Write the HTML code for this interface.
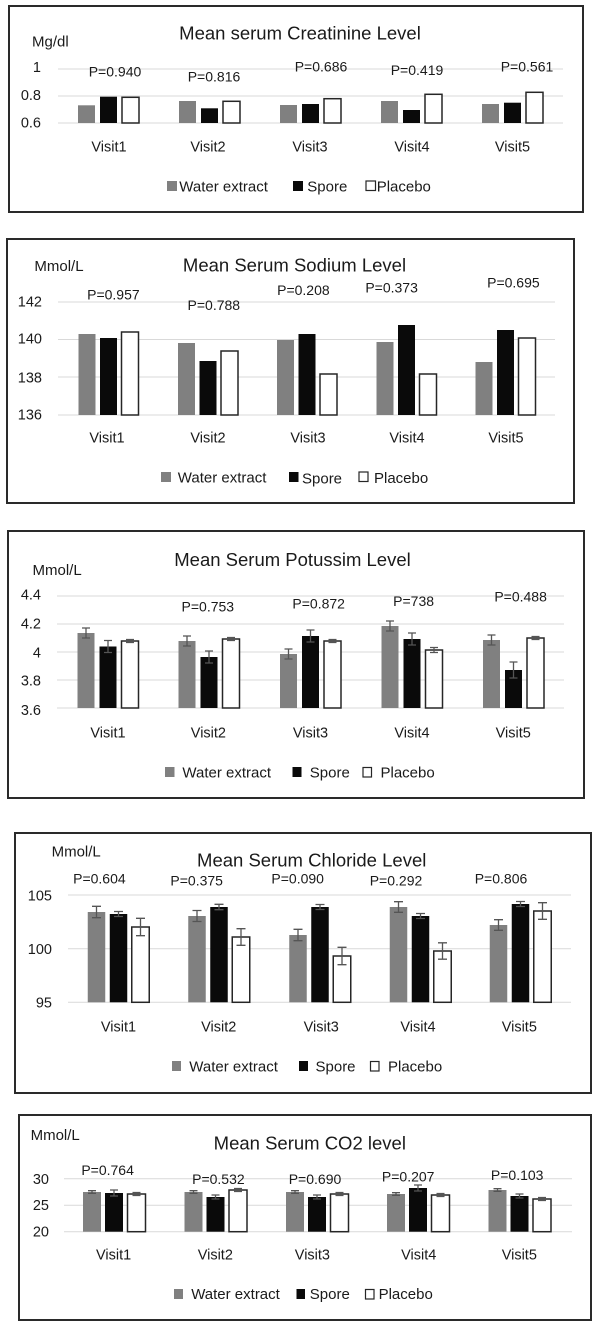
<!DOCTYPE html>
<html>
<head>
<meta charset="utf-8">
<style>
html,body{margin:0;padding:0;background:#fff;}
svg{display:block;}
text{font-family:"Liberation Sans",Arial,sans-serif;fill:#1a1a1a;}
.t{font-size:18.5px;text-anchor:middle;}
.u{font-size:15px;}
.k{font-size:14.5px;text-anchor:end;}
.p{font-size:14px;text-anchor:middle;}
.v{font-size:14.5px;text-anchor:middle;}
.l{font-size:15px;}
.g{stroke:#d9d9d9;stroke-width:1;}
.box{fill:none;stroke:#2a2a2a;stroke-width:2;}
.gr{fill:#808080;}
.bk{fill:#0a0a0a;}
.wh{fill:#fff;stroke:#262626;stroke-width:1.5;}
.e{stroke:#555;stroke-width:1.3;fill:none;}
.lw{fill:#fff;stroke:#262626;stroke-width:1.2;}
</style>
</head>
<body>
<svg width="600" height="1334" viewBox="0 0 600 1334" xmlns="http://www.w3.org/2000/svg">
<rect x="0" y="0" width="600" height="1334" fill="#fff"/>

<!-- ================= Panel 1: Creatinine ================= -->
<rect class="box" x="9" y="6" width="574" height="206"/>
<text class="t" x="300" y="39.5">Mean serum Creatinine Level</text>
<text class="u" x="32" y="46.5">Mg/dl</text>
<line class="g" x1="58" y1="69" x2="563" y2="69"/>
<line class="g" x1="58" y1="96" x2="563" y2="96"/>
<line class="g" x1="58" y1="123" x2="563" y2="123"/>
<text class="k" x="41" y="72">1</text>
<text class="k" x="41" y="100">0.8</text>
<text class="k" x="41" y="127.5">0.6</text>
<text class="p" x="115" y="76.7">P=0.940</text>
<text class="p" x="214" y="81.7">P=0.816</text>
<text class="p" x="321" y="71.7">P=0.686</text>
<text class="p" x="417" y="75">P=0.419</text>
<text class="p" x="527" y="71.7">P=0.561</text>
<!-- bars -->
<rect class="gr" x="78" y="105.3" width="17" height="17.7"/>
<rect class="bk" x="100" y="96.7" width="17" height="26.3"/>
<rect class="wh" x="122" y="97.3" width="17" height="25.7"/>
<rect class="gr" x="179" y="101" width="17" height="22"/>
<rect class="bk" x="201" y="108.3" width="17" height="14.7"/>
<rect class="wh" x="223" y="101.3" width="17" height="21.7"/>
<rect class="gr" x="280" y="105" width="17" height="18"/>
<rect class="bk" x="302" y="104" width="17" height="19"/>
<rect class="wh" x="324" y="98.7" width="17" height="24.3"/>
<rect class="gr" x="381" y="101" width="17" height="22"/>
<rect class="bk" x="403" y="110" width="17" height="13"/>
<rect class="wh" x="425" y="94.3" width="17" height="28.7"/>
<rect class="gr" x="482" y="104" width="17" height="19"/>
<rect class="bk" x="504" y="102.7" width="17" height="20.3"/>
<rect class="wh" x="526" y="92.3" width="17" height="30.7"/>
<text class="v" x="109" y="151.7">Visit1</text>
<text class="v" x="208" y="151.7">Visit2</text>
<text class="v" x="310" y="151.7">Visit3</text>
<text class="v" x="412" y="151.7">Visit4</text>
<text class="v" x="512.5" y="151.7">Visit5</text>
<rect class="gr" x="167" y="181" width="10" height="10"/>
<text class="l" x="179.3" y="191.5">Water extract</text>
<rect class="bk" x="293" y="181" width="10" height="10"/>
<text class="l" x="307.3" y="191.5">Spore</text>
<rect class="lw" x="366" y="181" width="9.5" height="9.5"/>
<text class="l" x="376.7" y="191.5">Placebo</text>

<!-- ================= Panel 2: Sodium ================= -->
<rect class="box" x="7" y="239" width="567" height="264"/>
<text class="t" x="294.5" y="271.3">Mean Serum Sodium Level</text>
<text class="u" x="34.4" y="271">Mmol/L</text>
<line class="g" x1="58" y1="302" x2="555" y2="302"/>
<line class="g" x1="58" y1="339.5" x2="555" y2="339.5"/>
<line class="g" x1="58" y1="377" x2="555" y2="377"/>
<line class="g" x1="58" y1="415" x2="555" y2="415"/>
<text class="k" x="42" y="306.7">142</text>
<text class="k" x="42" y="343.3">140</text>
<text class="k" x="42" y="382.3">138</text>
<text class="k" x="42" y="419.3">136</text>
<text class="p" x="113.4" y="299.3">P=0.957</text>
<text class="p" x="213.8" y="310">P=0.788</text>
<text class="p" x="303.4" y="295">P=0.208</text>
<text class="p" x="391.6" y="292.7">P=0.373</text>
<text class="p" x="513.4" y="287.3">P=0.695</text>
<rect class="gr" x="78.5" y="334" width="17" height="81"/>
<rect class="bk" x="100" y="338" width="17" height="77"/>
<rect class="wh" x="121.5" y="332" width="17" height="83"/>
<rect class="gr" x="178" y="343" width="17" height="72"/>
<rect class="bk" x="199.5" y="361" width="17" height="54"/>
<rect class="wh" x="221" y="351" width="17" height="64"/>
<rect class="gr" x="277" y="340" width="17" height="75"/>
<rect class="bk" x="298.5" y="334" width="17" height="81"/>
<rect class="wh" x="320" y="374" width="17" height="41"/>
<rect class="gr" x="376.5" y="342" width="17" height="73"/>
<rect class="bk" x="398" y="325" width="17" height="90"/>
<rect class="wh" x="419.5" y="374" width="17" height="41"/>
<rect class="gr" x="475.5" y="362" width="17" height="53"/>
<rect class="bk" x="497" y="330" width="17" height="85"/>
<rect class="wh" x="518.5" y="338" width="17" height="77"/>
<text class="v" x="107" y="442.7">Visit1</text>
<text class="v" x="208" y="442.7">Visit2</text>
<text class="v" x="308" y="442.7">Visit3</text>
<text class="v" x="407" y="442.7">Visit4</text>
<text class="v" x="506" y="442.7">Visit5</text>
<rect class="gr" x="161" y="472" width="10" height="10"/>
<text class="l" x="177.8" y="482.3">Water extract</text>
<rect class="bk" x="289" y="472" width="9.5" height="10"/>
<text class="l" x="302" y="483.5">Spore</text>
<rect class="lw" x="359" y="472" width="9" height="9.5"/>
<text class="l" x="374" y="483">Placebo</text>

<!-- ================= Panel 3: Potassium ================= -->
<rect class="box" x="8" y="531" width="576" height="267"/>
<text class="t" x="292.5" y="566">Mean Serum Potussim Level</text>
<text class="u" x="32.5" y="575">Mmol/L</text>
<line class="g" x1="57" y1="596" x2="564" y2="596"/>
<line class="g" x1="57" y1="624" x2="564" y2="624"/>
<line class="g" x1="57" y1="652" x2="564" y2="652"/>
<line class="g" x1="57" y1="680" x2="564" y2="680"/>
<line class="g" x1="57" y1="708" x2="564" y2="708"/>
<text class="k" x="41" y="599.3">4.4</text>
<text class="k" x="41" y="628.3">4.2</text>
<text class="k" x="41" y="657.3">4</text>
<text class="k" x="41" y="685.7">3.8</text>
<text class="k" x="41" y="715">3.6</text>
<text class="p" x="207.8" y="611.7">P=0.753</text>
<text class="p" x="318.7" y="608.3">P=0.872</text>
<text class="p" x="413.6" y="606">P=738</text>
<text class="p" x="520.6" y="601.7">P=0.488</text>
<rect class="gr" x="77.5" y="633" width="17" height="75"/>
<rect class="bk" x="99.5" y="646.5" width="17" height="61.5"/>
<rect class="wh" x="121.5" y="641" width="17" height="67"/>
<rect class="gr" x="178.5" y="641" width="17" height="67"/>
<rect class="bk" x="200.5" y="657" width="17" height="51"/>
<rect class="wh" x="222.5" y="639" width="17" height="69"/>
<rect class="gr" x="280" y="654" width="17" height="54"/>
<rect class="bk" x="302" y="636" width="17" height="72"/>
<rect class="wh" x="324" y="641" width="17" height="67"/>
<rect class="gr" x="381.5" y="626" width="17" height="82"/>
<rect class="bk" x="403.5" y="639" width="17" height="69"/>
<rect class="wh" x="425.5" y="650" width="17" height="58"/>
<rect class="gr" x="483" y="640" width="17" height="68"/>
<rect class="bk" x="505" y="670" width="17" height="38"/>
<rect class="wh" x="527" y="638" width="17" height="70"/>
<!-- error bars -->
<path class="e" d="M86 628V638M82 628H90M82 638H90"/>
<path class="e" d="M108 640.5V652.5M104 640.5H112M104 652.5H112"/>
<path class="e" d="M130 639.5V642.5M126 639.5H134M126 642.5H134"/>
<path class="e" d="M187 636V646M183 636H191M183 646H191"/>
<path class="e" d="M209 651V663M205 651H213M205 663H213"/>
<path class="e" d="M231 637.5V640.5M227 637.5H235M227 640.5H235"/>
<path class="e" d="M288.5 649V659M284.5 649H292.5M284.5 659H292.5"/>
<path class="e" d="M310.5 630V642M306.5 630H314.5M306.5 642H314.5"/>
<path class="e" d="M332.5 639.5V642.5M328.5 639.5H336.5M328.5 642.5H336.5"/>
<path class="e" d="M390 621V631M386 621H394M386 631H394"/>
<path class="e" d="M412 633V645M408 633H416M408 645H416"/>
<path class="e" d="M434 647.5V652.5M430 647.5H438M430 652.5H438"/>
<path class="e" d="M491.5 635V645M487.5 635H495.5M487.5 645H495.5"/>
<path class="e" d="M513.5 662V678M509.5 662H517.5M509.5 678H517.5"/>
<path class="e" d="M535.5 636.5V639.5M531.5 636.5H539.5M531.5 639.5H539.5"/>
<text class="v" x="108" y="737.7">Visit1</text>
<text class="v" x="208.4" y="737.7">Visit2</text>
<text class="v" x="310.5" y="737.7">Visit3</text>
<text class="v" x="412" y="737.7">Visit4</text>
<text class="v" x="513.2" y="737.7">Visit5</text>
<rect class="gr" x="165" y="767" width="9.5" height="10"/>
<text class="l" x="182.4" y="777.5">Water extract</text>
<rect class="bk" x="292.5" y="767" width="9" height="10"/>
<text class="l" x="309.8" y="777.5">Spore</text>
<rect class="lw" x="363" y="767.5" width="8.5" height="9.5"/>
<text class="l" x="380.5" y="777.5">Placebo</text>

<!-- ================= Panel 4: Chloride ================= -->
<rect class="box" x="15" y="833" width="576" height="260"/>
<text class="t" x="311.7" y="866.5">Mean Serum Chloride Level</text>
<text class="u" x="51.6" y="856.5">Mmol/L</text>
<line class="g" x1="68" y1="895" x2="571" y2="895"/>
<line class="g" x1="68" y1="948.7" x2="571" y2="948.7"/>
<line class="g" x1="68" y1="1002.3" x2="571" y2="1002.3"/>
<text class="k" x="52" y="900.7">105</text>
<text class="k" x="52" y="954">100</text>
<text class="k" x="52" y="1007.3">95</text>
<text class="p" x="99.4" y="883.3">P=0.604</text>
<text class="p" x="196.7" y="885.7">P=0.375</text>
<text class="p" x="297.7" y="883.3">P=0.090</text>
<text class="p" x="396" y="885.7">P=0.292</text>
<text class="p" x="501" y="883.3">P=0.806</text>
<rect class="gr" x="87.75" y="912" width="17.5" height="90.3"/>
<rect class="bk" x="109.75" y="914" width="17.5" height="88.3"/>
<rect class="wh" x="131.75" y="927" width="17.5" height="75.3"/>
<rect class="gr" x="188.25" y="916" width="17.5" height="86.3"/>
<rect class="bk" x="210.25" y="907" width="17.5" height="95.3"/>
<rect class="wh" x="232.25" y="937" width="17.5" height="65.3"/>
<rect class="gr" x="289.25" y="935" width="17.5" height="67.3"/>
<rect class="bk" x="311.25" y="907" width="17.5" height="95.3"/>
<rect class="wh" x="333.25" y="956" width="17.5" height="46.3"/>
<rect class="gr" x="389.75" y="907" width="17.5" height="95.3"/>
<rect class="bk" x="411.75" y="916" width="17.5" height="86.3"/>
<rect class="wh" x="433.75" y="951" width="17.5" height="51.3"/>
<rect class="gr" x="489.75" y="925" width="17.5" height="77.3"/>
<rect class="bk" x="511.75" y="904" width="17.5" height="98.3"/>
<rect class="wh" x="533.75" y="911" width="17.5" height="91.3"/>
<path class="e" d="M96.5 906.3V917.7M92 906.3H101M92 917.7H101"/>
<path class="e" d="M118.5 911.5V916.5M114 911.5H123M114 916.5H123"/>
<path class="e" d="M140.5 918.3V935.7M136 918.3H145M136 935.7H145"/>
<path class="e" d="M197 910.5V921.5M192.5 910.5H201.5M192.5 921.5H201.5"/>
<path class="e" d="M219 904.3V909.7M214.5 904.3H223.5M214.5 909.7H223.5"/>
<path class="e" d="M241 928.7V945.3M236.5 928.7H245.5M236.5 945.3H245.5"/>
<path class="e" d="M298 929.3V940.7M293.5 929.3H302.5M293.5 940.7H302.5"/>
<path class="e" d="M320 904.5V909.5M315.5 904.5H324.5M315.5 909.5H324.5"/>
<path class="e" d="M342 947.3V964.7M337.5 947.3H346.5M337.5 964.7H346.5"/>
<path class="e" d="M398.5 901.7V912.3M394 901.7H403M394 912.3H403"/>
<path class="e" d="M420.5 913.5V918.5M416 913.5H425M416 918.5H425"/>
<path class="e" d="M442.5 942.8V959.2M438 942.8H447M438 959.2H447"/>
<path class="e" d="M498.5 919.7V930.3M494 919.7H503M494 930.3H503"/>
<path class="e" d="M520.5 901.5V906.5M516 901.5H525M516 906.5H525"/>
<path class="e" d="M542.5 902.7V919.3M538 902.7H547M538 919.3H547"/>
<text class="v" x="118.5" y="1031.7">Visit1</text>
<text class="v" x="218.7" y="1031.7">Visit2</text>
<text class="v" x="321.2" y="1031.7">Visit3</text>
<text class="v" x="418" y="1031.7">Visit4</text>
<text class="v" x="519.3" y="1031.7">Visit5</text>
<rect class="gr" x="172" y="1061" width="9" height="10"/>
<text class="l" x="189.3" y="1071.7">Water extract</text>
<rect class="bk" x="299" y="1061" width="9" height="10"/>
<text class="l" x="315.5" y="1071.7">Spore</text>
<rect class="lw" x="370.5" y="1061.5" width="8.5" height="9.5"/>
<text class="l" x="388" y="1071.7">Placebo</text>

<!-- ================= Panel 5: CO2 ================= -->
<rect class="box" x="19" y="1115" width="572" height="205"/>
<text class="t" x="309.8" y="1149.3">Mean Serum CO2 level</text>
<text class="u" x="30.6" y="1140">Mmol/L</text>
<line class="g" x1="64" y1="1178.7" x2="572" y2="1178.7"/>
<line class="g" x1="64" y1="1205.2" x2="572" y2="1205.2"/>
<line class="g" x1="64" y1="1231.7" x2="572" y2="1231.7"/>
<text class="k" x="49" y="1184">30</text>
<text class="k" x="49" y="1210">25</text>
<text class="k" x="49" y="1236.7">20</text>
<text class="p" x="107.6" y="1175">P=0.764</text>
<text class="p" x="218.4" y="1184">P=0.532</text>
<text class="p" x="315" y="1184">P=0.690</text>
<text class="p" x="408.2" y="1181.7">P=0.207</text>
<text class="p" x="517.2" y="1180">P=0.103</text>
<rect class="gr" x="83" y="1192" width="18" height="39.7"/>
<rect class="bk" x="105" y="1193" width="18" height="38.7"/>
<rect class="wh" x="127.5" y="1194" width="18" height="37.7"/>
<rect class="gr" x="184.5" y="1192" width="18" height="39.7"/>
<rect class="bk" x="206.5" y="1197" width="18" height="34.7"/>
<rect class="wh" x="229" y="1190" width="18" height="41.7"/>
<rect class="gr" x="286" y="1192" width="18" height="39.7"/>
<rect class="bk" x="308" y="1197" width="18" height="34.7"/>
<rect class="wh" x="330.5" y="1194" width="18" height="37.7"/>
<rect class="gr" x="387" y="1194" width="18" height="37.7"/>
<rect class="bk" x="409" y="1188" width="18" height="43.7"/>
<rect class="wh" x="431.5" y="1195" width="18" height="36.7"/>
<rect class="gr" x="488.5" y="1190" width="18" height="41.7"/>
<rect class="bk" x="510.5" y="1196" width="18" height="35.7"/>
<rect class="wh" x="533" y="1199" width="18" height="32.7"/>
<path class="e" d="M92 1190.7V1193.3M88 1190.7H96M88 1193.3H96"/>
<path class="e" d="M114 1190V1196M110 1190H118M110 1196H118"/>
<path class="e" d="M136.5 1192.5V1195.5M132.5 1192.5H140.5M132.5 1195.5H140.5"/>
<path class="e" d="M193.5 1190.7V1193.3M189.5 1190.7H197.5M189.5 1193.3H197.5"/>
<path class="e" d="M215.5 1195V1199M211.5 1195H219.5M211.5 1199H219.5"/>
<path class="e" d="M238 1188.5V1191.5M234 1188.5H242M234 1191.5H242"/>
<path class="e" d="M295 1190.7V1193.3M291 1190.7H299M291 1193.3H299"/>
<path class="e" d="M317 1195V1199M313 1195H321M313 1199H321"/>
<path class="e" d="M339.5 1192.5V1195.5M335.5 1192.5H343.5M335.5 1195.5H343.5"/>
<path class="e" d="M396 1192.7V1195.3M392 1192.7H400M392 1195.3H400"/>
<path class="e" d="M418 1185V1191M414 1185H422M414 1191H422"/>
<path class="e" d="M440.5 1193.5V1196.5M436.5 1193.5H444.5M436.5 1196.5H444.5"/>
<path class="e" d="M497.5 1188.7V1191.3M493.5 1188.7H501.5M493.5 1191.3H501.5"/>
<path class="e" d="M519.5 1194V1198M515.5 1194H523.5M515.5 1198H523.5"/>
<path class="e" d="M542 1197.5V1200.5M538 1197.5H546M538 1200.5H546"/>
<text class="v" x="113.6" y="1259.3">Visit1</text>
<text class="v" x="215.3" y="1259.3">Visit2</text>
<text class="v" x="312.4" y="1259.3">Visit3</text>
<text class="v" x="418.7" y="1259.3">Visit4</text>
<text class="v" x="519.3" y="1259.3">Visit5</text>
<rect class="gr" x="174" y="1289" width="9" height="10"/>
<text class="l" x="191.2" y="1299">Water extract</text>
<rect class="bk" x="296.5" y="1289" width="8.5" height="10"/>
<text class="l" x="309.8" y="1299">Spore</text>
<rect class="lw" x="365.5" y="1289.5" width="8.5" height="9.5"/>
<text class="l" x="378.6" y="1299">Placebo</text>
</svg>
</body>
</html>
